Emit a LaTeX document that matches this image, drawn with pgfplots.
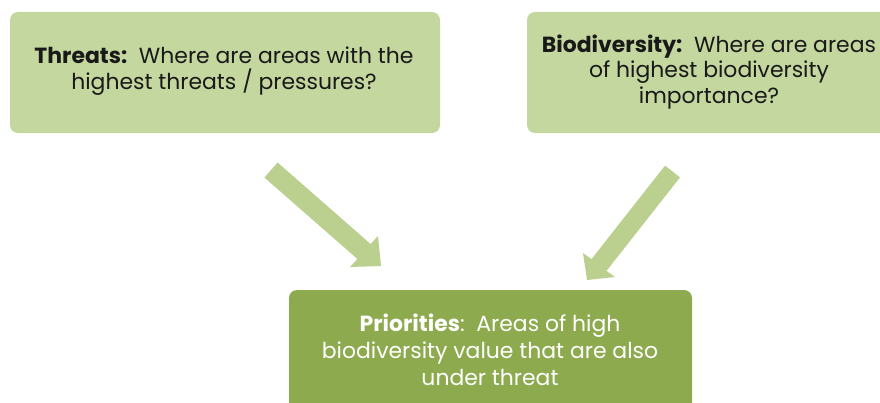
\documentclass[border=0pt]{standalone}
\usepackage{fontspec}
\setmainfont{Poppins}
\usepackage{pgfplots}
\pgfplotsset{compat=1.18}
\definecolor{boxlight}{HTML}{C4D79F}
\definecolor{boxdark}{HTML}{8DAA4E}
\definecolor{arrowc}{HTML}{BBD08E}
\begin{document}
\begin{tikzpicture}
\begin{axis}[width=880bp,height=402bp,scale only axis,hide axis,
  xmin=0,xmax=880,ymin=0,ymax=402,y dir=reverse,clip=true]
% boxes
\fill[boxlight,rounded corners=8bp] (axis cs:10,12) rectangle (axis cs:440,133);
\fill[boxlight,rounded corners=8bp] (axis cs:527,12) rectangle (axis cs:957,133);
\fill[boxdark,rounded corners=8bp] (axis cs:289,290) rectangle (axis cs:692,440);
% arrows
\addplot[draw=none,fill=arrowc] coordinates {(264.4,177.5) (277.6,162.5) (370.6,244) (378,236) (381,266) (350,267) (357.4,259)} -- cycle;
\addplot[draw=none,fill=arrowc] coordinates {(665,165.6) (680,177.4) (606.5,270.9) (615,277) (587,280) (583,253) (591.5,259.1)} -- cycle;
% texts
\node[align=center,font=\fontsize{22}{26}\selectfont,text=black!90] at (axis cs:224,71)
  {\textbf{Threats:}\ \ Where are areas with the\\highest threats / pressures?};
\node[align=center,font=\fontsize{22}{26}\selectfont,text=black!90] at (axis cs:709,72)
  {\textbf{Biodiversity:}\ \ Where are areas\\of highest biodiversity\\importance?};
\node[align=center,font=\fontsize{22}{27}\selectfont,text=white] at (axis cs:490,350)
  {\textbf{Priorities}:\ \ Areas of high\\biodiversity value that are also\\under threat};
\end{axis}
\pgfresetboundingbox
\path[use as bounding box] (current axis.south west) rectangle (current axis.north east);
\end{tikzpicture}
\end{document}
